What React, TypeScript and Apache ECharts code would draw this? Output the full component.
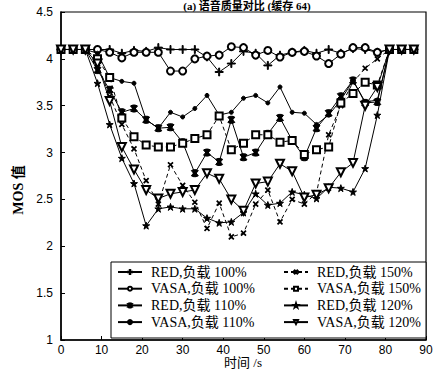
import React, { useEffect, useRef } from "react";
import * as echarts from "echarts";

const timeSec = [0, 3, 6, 9, 12, 15, 18, 21, 24, 27, 30, 33, 36, 39, 42, 45, 48, 51, 54, 57, 60, 63, 66, 69, 72, 75, 78, 81, 84, 87];

const red100 = [4.1, 4.1, 4.1, 4.1, 4.1, 4.06, 4.09, 4.08, 4.12, 4.1, 4.1, 4.1, 4.02, 3.86, 3.95, 4.08, 4.06, 3.93, 4.04, 4.07, 4.09, 4.06, 4.1, 4.06, 4.11, 4.1, 4.07, 4.1, 4.1, 4.1];
const vasa100 = [4.1, 4.1, 4.1, 4.1, 4.07, 4.01, 4.07, 4.07, 4.07, 3.87, 3.87, 4.0, 4.03, 4.04, 4.13, 4.12, 4.04, 4.09, 4.02, 4.07, 4.08, 4.03, 3.95, 4.05, 4.12, 4.12, 4.07, 4.1, 4.1, 4.1];
const red110 = [4.1, 4.1, 4.1, 3.88, 3.67, 3.43, 3.47, 3.35, 3.26, 3.27, 3.11, 2.78, 3.0, 2.9, 3.35, 2.95, 3.0, 3.2, 3.37, 3.13, 2.95, 3.26, 3.42, 3.6, 3.77, 3.53, 3.54, 4.1, 4.1, 4.1];
const vasa110 = [4.1, 4.1, 4.1, 4.06, 3.8, 3.76, 3.74, 3.35, 3.26, 3.43, 3.38, 3.47, 3.61, 3.4, 3.43, 3.58, 3.61, 3.53, 3.7, 3.43, 3.42, 3.3, 3.4, 3.56, 3.77, 3.54, 3.56, 4.1, 4.1, 4.1];
const red150 = [4.1, 4.1, 4.1, 3.95, 3.6, 3.3, 3.04, 2.7, 2.45, 2.87, 2.65, 2.47, 2.19, 2.46, 2.1, 2.14, 2.45, 2.6, 2.26, 2.5, 2.45, 2.57, 3.19, 3.5, 3.75, 3.9, 4.0, 4.1, 4.1, 4.1];
const vasa150 = [4.1, 4.1, 4.1, 4.0, 3.8, 3.37, 3.17, 3.08, 3.06, 3.06, 3.1, 3.15, 3.19, 3.39, 3.03, 3.1, 3.19, 3.19, 3.11, 3.13, 2.98, 3.03, 3.06, 3.53, 3.63, 3.75, 3.72, 4.1, 4.1, 4.1];
const red120 = [4.1, 4.1, 4.1, 3.74, 3.3, 2.94, 2.67, 2.22, 2.4, 2.42, 2.4, 2.4, 2.3, 2.25, 2.26, 2.36, 2.56, 2.44, 2.46, 2.58, 2.55, 2.51, 2.63, 2.62, 2.58, 2.83, 3.4, 4.1, 4.1, 4.1];
const vasa120 = [4.1, 4.1, 4.1, 3.95, 3.55, 3.06, 2.82, 2.6, 2.51, 2.56, 2.58, 2.6, 2.78, 2.72, 2.5, 2.38, 2.67, 2.69, 2.88, 2.8, 2.52, 2.55, 2.62, 2.79, 2.89, 3.5, 3.7, 4.1, 4.1, 4.1];

const seriesNames = [
  "RED,负载 100%",
  "VASA,负载 100%",
  "RED,负载 110%",
  "VASA,负载 110%",
  "RED,负载 150%",
  "VASA,负载 150%",
  "RED,负载 120%",
  "VASA,负载 120%",
];

const xTicks = [0, 10, 20, 30, 40, 50, 60, 70, 80, 90];

const PLUS = "path://M4.4,0H5.6V4.4H10V5.6H5.6V10H4.4V5.6H0V4.4H4.4Z";
const STAR5 = "path://M5,0L6.2,3.6L10,3.6L6.9,5.9L8.1,9.5L5,7.3L1.9,9.5L3.1,5.9L0,3.6L3.8,3.6Z";
const ASTER =
  "path://M3.8,0H6.2V10H3.8Z M1.46,1.27L3.54,0.07L8.54,8.73L6.46,9.93Z M3.54,9.93L1.46,8.73L6.46,0.07L8.54,1.27Z";

const FONT_SERIF = "'Liberation Serif', 'Times New Roman', 'Noto Sans CJK SC', serif";
const FONT_SANS = "'Liberation Sans', Arial, sans-serif";

export default function App() {
  const ref = useRef<HTMLDivElement>(null);
  useEffect(() => {
    document.body.style.margin = "0";
    if (!ref.current) return;
    const chart = echarts.init(ref.current, undefined, { renderer: "svg" });
    const values = [red100, vasa100, red110, vasa110, red150, vasa150, red120, vasa120];
    const styles: any[] = [
      { symbol: PLUS, symbolSize: 8, type: "solid" },
      { symbol: "emptyCircle", symbolSize: 7, type: "solid" },
      { symbol: ASTER, symbolSize: 7, type: "solid" },
      { symbol: "circle", symbolSize: 4, type: "solid" },
      { symbol: PLUS, symbolSize: 6, symbolRotate: 45, type: [4, 3] },
      { symbol: "emptyRect", symbolSize: 7, type: [4, 3] },
      { symbol: STAR5, symbolSize: 7, type: "solid" },
      { symbol: "emptyTriangle", symbolSize: 8, symbolRotate: 180, type: "solid" },
    ];
    const series = seriesNames.map((name, k) => ({
      name,
      type: "line",
      data: timeSec.map((t, i) => [t, values[k][i]]),
      symbol: styles[k].symbol,
      symbolSize: styles[k].symbolSize,
      symbolRotate: styles[k].symbolRotate || 0,
      showAllSymbol: true,
      lineStyle: { color: "#000", width: 1, type: styles[k].type },
      itemStyle: { color: "#000", borderColor: "#000", borderWidth: 1 },
      emphasis: { disabled: true },
    }));
    const legendText = {
      color: "#000",
      fontSize: 14,
      fontFamily: FONT_SERIF,
      lineHeight: 14,
      padding: [0, 0, 0, 4],
    };
    const legendBase = {
      orient: "vertical",
      top: 265,
      padding: 0,
      itemWidth: 24,
      itemHeight: 5,
      itemGap: 2.7,
      textStyle: legendText,
      z: 6,
    };
    chart.setOption({
      animation: false,
      backgroundColor: "#fff",
      grid: {
        left: 61,
        right: 12,
        top: 12,
        bottom: 30,
        show: true,
        borderColor: "#000",
        borderWidth: 1.2,
        backgroundColor: "transparent",
      },
      xAxis: {
        type: "value",
        min: 0,
        max: 90,
        interval: 10,
        axisLine: { show: true, lineStyle: { color: "#000", width: 1.5 } },
        axisTick: { show: true, inside: true, length: 4, lineStyle: { color: "#000" } },
        axisLabel: {
          color: "#000",
          fontSize: 12,
          fontFamily: FONT_SANS,
          margin: 4,
          formatter: (v: number) => (xTicks.indexOf(v) >= 0 ? String(v) : ""),
        },
        splitLine: { show: false },
      },
      yAxis: {
        type: "value",
        min: 1,
        max: 4.5,
        interval: 0.5,
        axisLine: { show: true, lineStyle: { color: "#000", width: 1.5 } },
        axisTick: { show: true, inside: true, length: 4, lineStyle: { color: "#000" } },
        axisLabel: { color: "#000", fontSize: 12, fontFamily: FONT_SANS, margin: 8 },
        splitLine: { show: false },
      },
      legend: [
        { ...legendBase, data: seriesNames.slice(0, 4), left: 117 },
        { ...legendBase, data: seriesNames.slice(4, 8), left: 283 },
      ],
      graphic: [
        {
          type: "rect",
          z: 5,
          shape: { x: 111, y: 262, width: 315, height: 76 },
          style: { fill: "#fff", stroke: "#000", lineWidth: 1 },
        },
        {
          type: "text",
          x: 247,
          y: 0,
          style: {
            text: "(a) 语音质量对比 (缓存 64)",
            fill: "#000",
            font: `bold 11px ${FONT_SERIF}`,
            align: "center",
            verticalAlign: "top",
          },
        },
        {
          type: "text",
          x: 18,
          y: 190,
          rotation: Math.PI / 2,
          style: {
            text: "MOS 值",
            fill: "#000",
            font: `bold 14px ${FONT_SERIF}`,
            align: "center",
            verticalAlign: "middle",
          },
        },
        {
          type: "text",
          x: 243,
          y: 356,
          style: {
            text: "时间 /s",
            fill: "#000",
            font: `13px ${FONT_SERIF}`,
            align: "center",
            verticalAlign: "top",
          },
        },
      ],
      series,
    });
    return () => chart.dispose();
  }, []);
  return <div ref={ref} style={{ width: 438, height: 370 }} />;
}
